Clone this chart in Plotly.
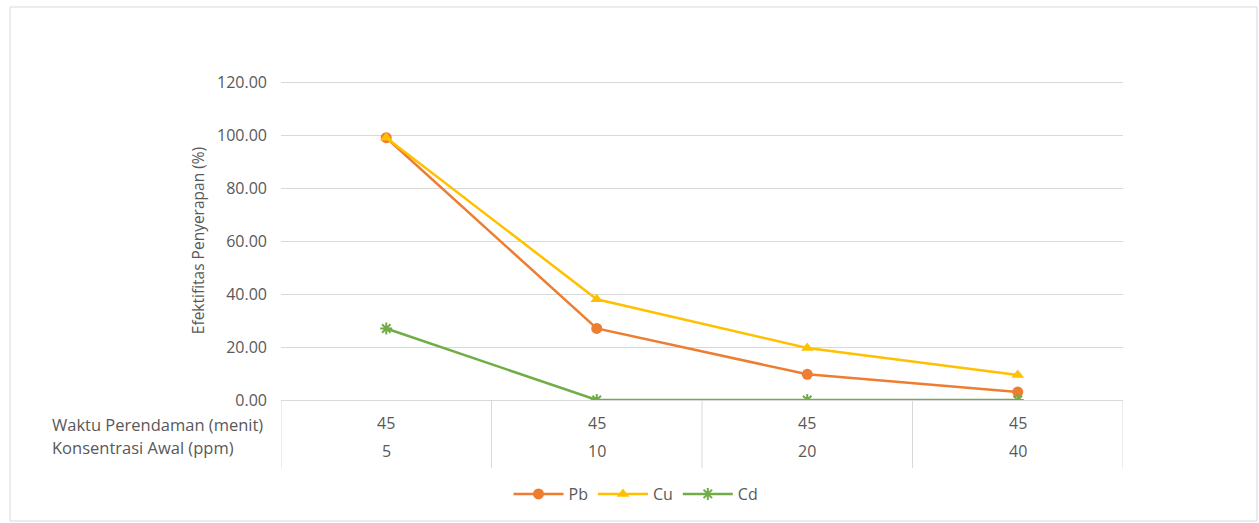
import plotly.graph_objects as go

waktu = ["45", "45", "45", "45"]
konsentrasi = ["5", "10", "20", "40"]
pb = [99.0, 27.0, 9.7, 3.0]
cu = [99.0, 38.0, 19.6, 9.4]
cd = [27.0, 0.0, 0.0, 0.0]
y_ticks = [0, 20, 40, 60, 80, 100, 120]

W, H = 1259, 523
L, R, T, B = 281, 1123, 81, 400
pw, ph = R - L, B - T

def px(x):
    return (x - L) / pw

def py(y):
    return (B - y) / ph

FONT = "Open Sans"
GRAY = "#595959"
xs = list(range(len(konsentrasi)))

fig = go.Figure()
fig.add_trace(go.Scatter(x=xs, y=pb, name="Pb", mode="lines+markers",
                         line=dict(color="#ED7D31", width=2.5),
                         marker=dict(symbol="circle", size=11, color="#ED7D31")))
fig.add_trace(go.Scatter(x=xs, y=cu, name="Cu", mode="lines+markers",
                         line=dict(color="#FFC000", width=2.5),
                         marker=dict(symbol="triangle-up", size=11, color="#FFC000")))
fig.add_trace(go.Scatter(x=xs, y=cd, name="Cd", mode="lines+markers",
                         line=dict(color="#70AD47", width=2.5),
                         marker=dict(symbol="asterisk-open", size=10,
                                     line=dict(color="#70AD47", width=2))))

shapes = []
shapes.append(dict(type="rect", xref="paper", yref="paper",
                   x0=px(10), x1=px(1257), y0=py(521), y1=py(7),
                   line=dict(color="#D9D9D9", width=1), fillcolor="rgba(0,0,0,0)", layer="below"))
n = len(konsentrasi)
for i in range(n + 1):
    shapes.append(dict(type="line", xref="x", yref="paper",
                       x0=i - 0.5, x1=i - 0.5, y0=0, y1=py(468),
                       line=dict(color="#D9D9D9", width=1)))

TF = dict(family=FONT, size=16, color=GRAY)
annotations = []
for i in range(n):
    annotations.append(dict(x=i, y=py(423), xref="x", yref="paper", text=waktu[i],
                            showarrow=False, font=TF, xanchor="center", yanchor="middle"))
    annotations.append(dict(x=i, y=py(451), xref="x", yref="paper", text=konsentrasi[i],
                            showarrow=False, font=TF, xanchor="center", yanchor="middle"))
annotations.append(dict(x=px(50), y=py(424), xref="paper", yref="paper", xanchor="left",
                        yanchor="middle", text="Waktu Perendaman (menit)", showarrow=False,
                        font=dict(family=FONT, size=16.5, color=GRAY)))
annotations.append(dict(x=px(50), y=py(447), xref="paper", yref="paper", xanchor="left",
                        yanchor="middle", text="Konsentrasi Awal (ppm)", showarrow=False,
                        font=dict(family=FONT, size=16.5, color=GRAY)))

fig.update_layout(
    width=W, height=H,
    margin=dict(l=L, r=W - R, t=T, b=H - B),
    paper_bgcolor="white", plot_bgcolor="white",
    font=dict(family=FONT, color=GRAY, size=15),
    showlegend=True,
    legend=dict(orientation="h", x=px(636), y=py(494), xanchor="center", yanchor="middle",
                font=dict(family=FONT, size=16, color=GRAY), itemwidth=50),
    xaxis=dict(range=[-0.5, n - 0.5], showticklabels=False, showgrid=False,
               zeroline=False, showline=True, linecolor="#D9D9D9", linewidth=1, ticks=""),
    yaxis=dict(range=[0, 120.4], tickvals=y_ticks, tickformat=".2f", showgrid=True,
               gridcolor="#D9D9D9", gridwidth=1, zeroline=False, showline=False,
               ticks="", ticklen=0, ticklabelstandoff=13,
               tickfont=dict(family=FONT, size=16, color=GRAY),
               title=dict(text="Efektifitas Penyerapan (%)", standoff=8,
                          font=dict(family=FONT, size=15.5, color=GRAY))),
    shapes=shapes, annotations=annotations,
)

fig.write_html("out.html", post_script="document.body.style.margin='0';",
               config={"displayModeBar": False})
